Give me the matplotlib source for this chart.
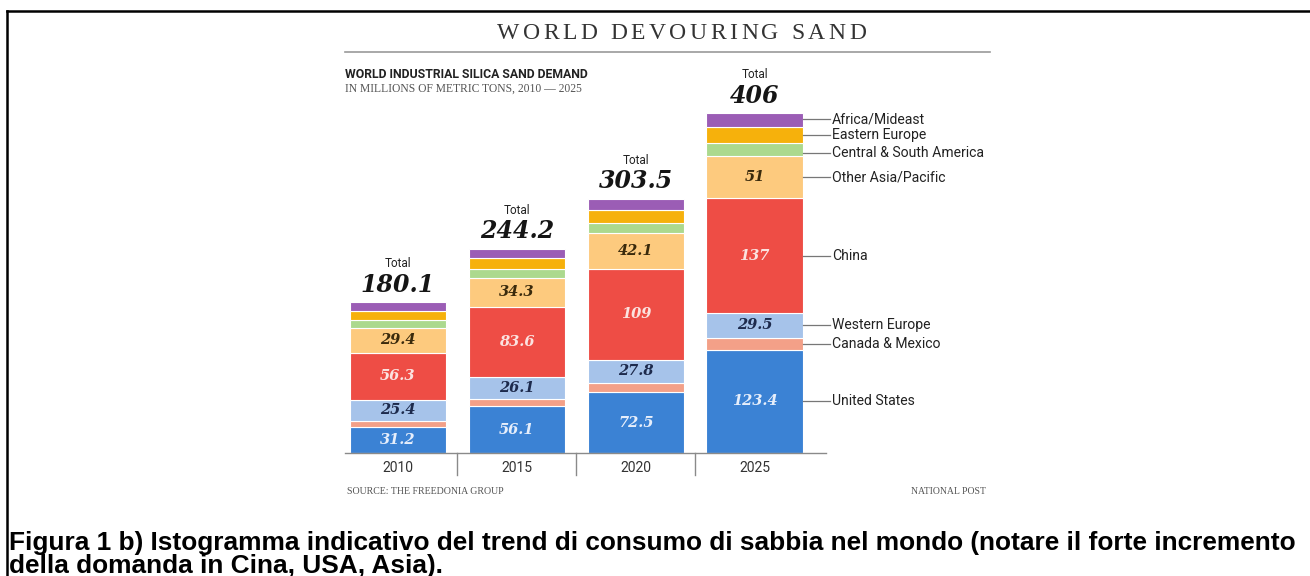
import numpy as np
import matplotlib
matplotlib.use('Agg')
import matplotlib.pyplot as plt
from matplotlib import font_manager
from matplotlib.lines import Line2D

# data (millions of metric tons)
years = ['2010', '2015', '2020', '2025']
regions = ['United States', 'Canada & Mexico', 'Western Europe', 'China',
           'Other Asia/Pacific', 'Central & South America', 'Eastern Europe',
           'Africa/Mideast']
us = [31.2, 56.1, 72.5, 123.4]
canada_mexico = [7.0, 9.0, 11.0, 14.2]
western_europe = [25.4, 26.1, 27.8, 29.5]
china = [56.3, 83.6, 109.0, 137.0]
other_asia = [29.4, 34.3, 42.1, 51.0]
central_south_am = [9.5, 10.5, 12.5, 15.3]
eastern_europe = [11.0, 13.0, 15.5, 19.3]
africa_mideast = [10.3, 11.6, 13.1, 16.3]
totals = [180.1, 244.2, 303.5, 406]
# which segments get a printed value
labelled = ['United States', 'Western Europe', 'China', 'Other Asia/Pacific']

series = [us, canada_mexico, western_europe, china, other_asia,
          central_south_am, eastern_europe, africa_mideast]
colors = ['#3b82d4', '#f3a088', '#a6c3ea', '#ee4d45', '#fdca7e',
          '#acd98e', '#f6b10c', '#9b5db5']
text_colors = {'United States': '#e6eefb', 'Western Europe': '#1d2a4c',
               'China': '#fbe3e0', 'Other Asia/Pacific': '#3a2a0c'}

sans = 'Roboto'
serif = 'Liberation Serif'
numfont = 'DejaVu Serif'

W, H = 1310, 576
fig = plt.figure(figsize=(W / 100, H / 100), dpi=100)
fig.patch.set_facecolor('white')
renderer = fig.canvas.get_renderer()


def px(x, y):
    return x / W, 1 - y / H


def fit(text, fp, target):
    # font size that makes text about target pixels wide
    w = renderer.get_text_width_height_descent(text, fp, ismath=False)[0]
    fp = fp.copy()
    fp.set_size(fp.get_size() * target / w)
    return fp


# plot area: baseline at y=453 px, 0.837 px per unit
ymax = 450
scale = 0.837
ax = fig.add_axes([345 / W, (H - 453) / H, 481 / W, ymax * scale / H])
x = np.arange(len(years))
width = 0.81
bottom = np.zeros(len(years))
for name, vals, col in zip(regions, series, colors):
    vals = np.array(vals)
    ax.bar(x, vals, width, bottom=bottom, color=col, edgecolor='white',
           linewidth=0.8)
    if name in labelled:
        for xi, v, b in zip(x, vals, bottom):
            ax.text(xi, b + v / 2, f'{v:g}', ha='center', va='center',
                    fontsize=10.5, family=numfont, weight='bold',
                    style='italic', color=text_colors[name])
    bottom += vals

ax.set_xlim(-0.445, 3.6)
ax.set_ylim(0, ymax)
for s in ['top', 'right', 'left']:
    ax.spines[s].set_visible(False)
ax.spines['bottom'].set_color('#8a8a8a')
ax.spines['bottom'].set_linewidth(1.0)
ax.set_yticks([])
ax.set_xticks(x)
ax.set_xticklabels(years, fontsize=10, color='#333333', family=sans)
ax.tick_params(axis='x', length=0, pad=6)
for xs in [0.5, 1.5, 2.5]:
    ax.plot([xs, xs], [0, -0.058], color='#8a8a8a', lw=1.0, clip_on=False,
            transform=ax.get_xaxis_transform())

# totals above the bars
for xi, t in zip(x, totals):
    ax.annotate(f'{t:g}', xy=(xi, t), xytext=(0, 4), textcoords='offset points',
                ha='center', va='bottom', fontsize=17, family=numfont,
                weight='bold', style='italic', color='#151515')
    ax.annotate('Total', xy=(xi, t), xytext=(0, 23), textcoords='offset points',
                ha='center', va='bottom', fontsize=8.5, color='#222222',
                family=sans)

# leader labels on the last bar
lab_fp = fit('Central & South America',
             font_manager.FontProperties(family=sans, size=9), 153)
nudge = {'Central & South America': -4.5, 'Africa/Mideast': 1.0}
cum = 0
last = len(years) - 1
for name, vals in zip(regions, series):
    v = vals[last]
    yc = cum + v / 2 + nudge.get(name, 0)
    ax.plot([last + 0.41, last + 0.63], [yc, yc], color='#777777', lw=0.9,
            clip_on=False)
    ax.text(last + 0.65, yc, name, ha='left', va='center', fontproperties=lab_fp,
            color='#222222', clip_on=False)
    cum += v

# title with letter spacing
title = 'WORLD DEVOURING SAND'
tfp = font_manager.FontProperties(family=serif, size=17)
widths = [renderer.get_text_width_height_descent(c, tfp, ismath=False)[0]
          for c in title]
x0, x1 = 497, 866
track = (x1 - x0 - sum(widths)) / (len(title) - 1)
cx = x0
for c, w in zip(title, widths):
    fig.text(*px(cx, 39), c, fontproperties=tfp, color='#333333',
             ha='left', va='baseline')
    cx += w + track

fig.add_artist(Line2D([345 / W, 990 / W], [1 - 52 / H] * 2, color='#9a9a9a',
                      lw=1.2))
sub1 = 'WORLD INDUSTRIAL SILICA SAND DEMAND'
fig.text(*px(345, 78), sub1, color='#222222', ha='left', va='baseline',
         fontproperties=fit(sub1, font_manager.FontProperties(
             family=sans, size=10, weight='bold'), 245))
sub2 = 'IN MILLIONS OF METRIC TONS, 2010 \u2014 2025'
fig.text(*px(345, 92), sub2, color='#555555', ha='left', va='baseline',
         fontproperties=fit(sub2, font_manager.FontProperties(
             family=serif, size=7), 238))
src = 'SOURCE: THE FREEDONIA GROUP'
fig.text(*px(347, 494), src, color='#555555', ha='left', va='baseline',
         fontproperties=fit(src, font_manager.FontProperties(
             family=serif, size=6), 160))
npost = 'NATIONAL POST'
fig.text(*px(986, 494), npost, color='#555555', ha='right', va='baseline',
         fontproperties=fit(npost, font_manager.FontProperties(
             family=serif, size=6), 76))

# frame
fig.add_artist(Line2D([7 / W, 1.0], [1 - 11 / H] * 2, color='black', lw=1.8))
fig.add_artist(Line2D([7 / W, 7 / W], [1 - 11 / H, 0], color='black', lw=1.8))

# caption, fitted to the frame width
cap1 = ('Figura 1 b) Istogramma indicativo del trend di consumo di sabbia nel '
        'mondo (notare il forte incremento')
cap2 = 'della domanda in Cina, USA, Asia).'
cfp = fit(cap1, font_manager.FontProperties(family='Liberation Sans', size=15,
                                            weight='bold'), 1295)
fig.text(*px(9, 550), cap1, fontproperties=cfp, color='black', ha='left',
         va='baseline')
fig.text(*px(9, 573), cap2, fontproperties=cfp, color='black', ha='left',
         va='baseline')

fig.savefig('out.png', dpi=100, facecolor='white')
